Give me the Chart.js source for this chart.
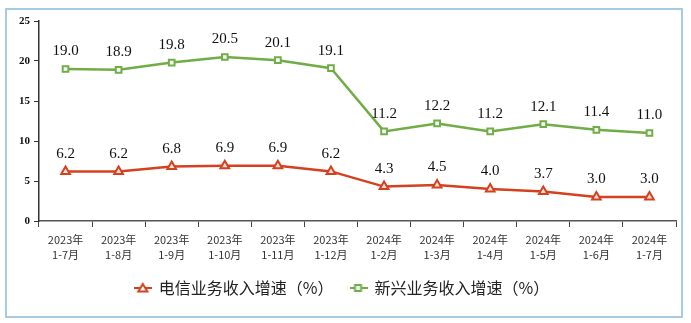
<!DOCTYPE html>
<html>
<head>
<meta charset="utf-8">
<script src="https://cdn.jsdelivr.net/npm/chart.js@4"></script>
<style>
  body { margin: 0; background: #fff; }
  #wrap { position: relative; width: 691px; height: 323px; }
  #frame { position: absolute; left: 5px; top: 8px; width: 674px; height: 306px; border: 2px solid #a8cbe4; pointer-events: none; }
</style>
</head>
<body>
<div id="wrap">
  <canvas id="chart" width="691" height="323"></canvas>
  <div id="frame"></div>
</div>
<script>
// categories and series
const years = ['2023年', '2023年', '2023年', '2023年', '2023年', '2023年', '2024年', '2024年', '2024年', '2024年', '2024年', '2024年'];
const periods = ['1-7月', '1-8月', '1-9月', '1-10月', '1-11月', '1-12月', '1-2月', '1-3月', '1-4月', '1-5月', '1-6月', '1-7月'];
const telecomGrowth = [6.2, 6.2, 6.8, 6.9, 6.9, 6.2, 4.3, 4.5, 4.0, 3.7, 3.0, 3.0];
const emergingGrowth = [19.0, 18.9, 19.8, 20.5, 20.1, 19.1, 11.2, 12.2, 11.2, 12.1, 11.4, 11.0];
const yTicks = [0, 5, 10, 15, 20, 25];

const RED = '#d5401e';
const GREEN = '#70ad47';

// legend symbol: short line with the marker in the middle
function legendIcon(color, style) {
    const c = document.createElement('canvas');
    c.width = 18; c.height = 12;
    const g = c.getContext('2d');
    g.strokeStyle = color;
    g.lineWidth = 2;
    g.beginPath(); g.moveTo(0, 6); g.lineTo(18, 6); g.stroke();
    g.fillStyle = '#fff';
    g.beginPath();
    if (style === 'triangle') {
        g.moveTo(9, 2); g.lineTo(13.5, 9.5); g.lineTo(4.5, 9.5); g.closePath();
    } else {
        g.rect(5.5, 3, 6, 6);
    }
    g.fill(); g.stroke();
    return c;
}

// draws value labels above every point
const valueLabels = {
    id: 'valueLabels',
    afterDatasetsDraw(chart) {
        const ctx = chart.ctx;
        ctx.save();
        ctx.font = '15px "Liberation Serif", "Times New Roman", serif';
        ctx.fillStyle = '#111';
        ctx.textAlign = 'center';
        ctx.textBaseline = 'bottom';
        chart.data.datasets.forEach((ds, i) => {
            chart.getDatasetMeta(i).data.forEach((pt, j) => {
                ctx.fillText(ds.data[j].toFixed(1), pt.x, pt.y - 10);
            });
        });
        ctx.restore();
    }
};

new Chart(document.getElementById('chart'), {
    type: 'line',
    data: {
        labels: years.map((y, i) => [y, periods[i]]),
        datasets: [{
            label: '电信业务收入增速（%）',
            data: telecomGrowth,
            borderColor: RED,
            backgroundColor: '#fbe3dc',
            borderWidth: 2.5,
            pointStyle: 'triangle',
            pointRadius: 5,
            pointBorderWidth: 2,
            tension: 0
        }, {
            label: '新兴业务收入增速（%）',
            data: emergingGrowth,
            borderColor: GREEN,
            backgroundColor: '#fff',
            borderWidth: 2.5,
            pointStyle: 'rect',
            pointRadius: 4,
            pointBorderWidth: 2,
            tension: 0
        }]
    },
    options: {
        responsive: false,
        animation: false,
        layout: { padding: { left: 8, right: 15, top: 21, bottom: 17 } },
        plugins: {
            tooltip: { enabled: false },
            legend: {
                position: 'bottom',
                labels: {
                    usePointStyle: true,
                    boxWidth: 18,
                    padding: 17,
                    color: '#222',
                    font: { family: '"Noto Sans CJK SC", sans-serif', size: 16 },
                    generateLabels(chart) {
                        return chart.data.datasets.map((ds, i) => ({
                            text: ds.label,
                            pointStyle: legendIcon(ds.borderColor, ds.pointStyle),
                            datasetIndex: i,
                            fillStyle: ds.borderColor,
                            strokeStyle: ds.borderColor,
                            lineWidth: 0,
                            fontColor: '#222'
                        }));
                    }
                }
            }
        },
        scales: {
            x: {
                offset: true,
                grid: { display: true, drawOnChartArea: false, drawTicks: true, offset: true, tickLength: 6, color: '#444' },
                border: { color: '#555', width: 1.5 },
                ticks: {
                    maxRotation: 0,
                    autoSkip: false,
                    color: '#333',
                    padding: 5,
                    font: { family: '"Noto Sans CJK SC", sans-serif', size: 11, lineHeight: 1.4 }
                },
                afterFit(scale) { scale.height = 42; }
            },
            y: {
                min: 0,
                max: 25,
                afterBuildTicks(scale) { scale.ticks = yTicks.map(v => ({ value: v })); },
                grid: { display: true, drawOnChartArea: false, drawTicks: true, tickLength: 5, color: '#333' },
                border: { color: '#333', width: 1.5 },
                ticks: {
                    color: '#111',
                    padding: 4,
                    font: { family: '"Liberation Serif", serif', size: 11, weight: 'bold' }
                },
                afterFit(scale) { scale.width = 31; }
            }
        }
    },
    plugins: [valueLabels]
});
</script>
</body>
</html>
